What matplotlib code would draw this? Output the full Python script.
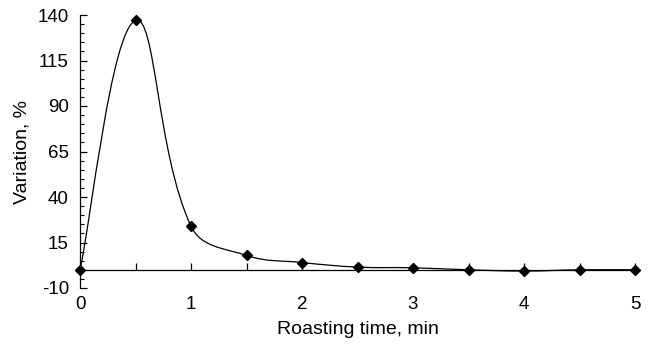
import matplotlib
matplotlib.use("Agg")
from matplotlib import pyplot as plt
from matplotlib.path import Path
from matplotlib.patches import PathPatch
from matplotlib.ticker import MultipleLocator
import numpy as np

plt.rcParams['font.family'] = ['Liberation Sans', 'DejaVu Sans']
plt.rcParams['axes.unicode_minus'] = False

time_min = [0, 0.5, 1.0, 1.5, 2.0, 2.5, 3.0, 3.5, 4.0, 4.5, 5.0]
variation = [0, 137, 24, 7.9, 4.0, 1.5, 1.1, 0, -0.7, 0, 0]
y_ticks = [-10, 15, 40, 65, 90, 115, 140]


def smooth_path(ax, xs, ys, f=0.2):
    # bezier "smoothed line" worked out in screen space, handed back in data space
    pts = ax.transData.transform(np.column_stack([xs, ys]))
    n = len(pts)
    seg = [np.hypot(*(pts[i + 1] - pts[i])) for i in range(n - 1)]
    h_in, h_out = [], []
    for i in range(n):
        d = (pts[min(i + 1, n - 1)] - pts[max(i - 1, 0)]) * f
        if 0 < i < n - 1:
            s = seg[i - 1] + seg[i]
            h_in.append(d * 2 * seg[i - 1] / s)
            h_out.append(d * 2 * seg[i] / s)
        else:
            h_in.append(d)
            h_out.append(d)
    verts = [pts[0]]
    codes = [Path.MOVETO]
    for i in range(n - 1):
        verts += [pts[i] + h_out[i], pts[i + 1] - h_in[i + 1], pts[i + 1]]
        codes += [Path.CURVE4] * 3
    verts = ax.transData.inverted().transform(np.array(verts))
    return Path(verts, codes)


fig = plt.figure(figsize=(6.5, 3.44), dpi=100)
ax = fig.add_axes([80/650, 1 - 288/344, 555/650, 273/344])

ax.set_xlim(0, 5)
ax.set_ylim(-10, 140)

ax.add_patch(PathPatch(smooth_path(ax, time_min, variation), fc='none', ec='black', lw=0.9))
ax.plot(time_min, variation, ls='none', marker='D', ms=5.5, color='black', clip_on=False, zorder=3)

ax.set_yticks(y_ticks)
ax.yaxis.set_minor_locator(MultipleLocator(5))
ax.xaxis.set_major_locator(MultipleLocator(1))
ax.xaxis.set_minor_locator(MultipleLocator(0.5))

ax.spines['top'].set_visible(False)
ax.spines['right'].set_visible(False)
ax.spines['bottom'].set_position(('data', 0))
ax.spines['left'].set_linewidth(0.9)
ax.spines['bottom'].set_linewidth(0.9)

ax.tick_params(axis='y', which='major', direction='in', length=5, width=0.9, labelsize=13.5, pad=8)
ax.tick_params(axis='y', which='minor', direction='in', length=3, width=0.8)
ax.tick_params(axis='x', which='both', direction='in', length=5, width=0.9, labelsize=13.5, pad=19)

ax.set_xlabel("Roasting time, min", fontsize=14)
ax.set_ylabel("Variation, %", fontsize=14)
ax.xaxis.set_label_coords(0.5, -0.12)
ax.yaxis.set_label_coords(-0.09, 0.5)

fig.savefig("out.png", dpi=100)
